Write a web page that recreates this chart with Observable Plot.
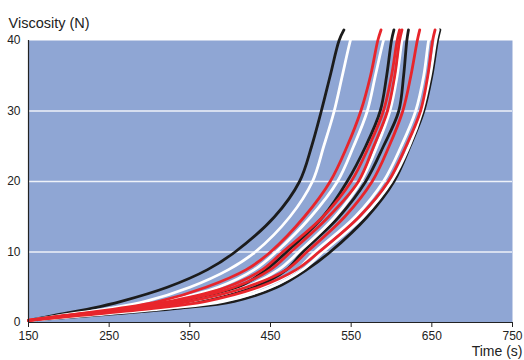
<!DOCTYPE html>
<html>
<head>
<meta charset="utf-8">
<script src="https://cdn.jsdelivr.net/npm/d3@7"></script>
<script src="https://cdn.jsdelivr.net/npm/@observablehq/plot@0.6"></script>
<style>
  html, body { margin: 0; padding: 0; background: #ffffff; }
  #chart svg { display: block; }
</style>
</head>
<body>
<div id="chart"></div>
<script>
// Viscosity levels (N) at which each run's time (s) was read
const levels = [0.3, 1, 2, 3, 5, 7.5, 10, 15, 20, 25, 30, 35, 40, 41.5];

// Times (s) per run
const run1  = [150, 182, 228, 265, 322, 372, 406, 455, 486, 501, 513, 524, 535, 541];
const run2  = [150, 190, 250, 295, 350, 398, 431, 474, 502, 516, 529, 539, 549, 553];
const run3  = [150, 195, 262, 312, 370, 420, 450, 492, 524, 545, 562, 574, 583, 587];
const run4  = [150, 200, 270, 320, 385, 430, 457, 500, 533, 553, 570, 580, 590, 594];
const run5  = [150, 205, 285, 345, 410, 445, 470, 515, 545, 568, 586, 594, 600, 603];
const run6  = [150, 198, 272, 325, 395, 440, 465, 515, 550, 572, 590, 600, 607, 610];
const run7  = [150, 200, 278, 335, 405, 450, 475, 522, 559, 578, 595, 604, 610, 613];
const run8  = [150, 208, 292, 352, 418, 460, 485, 530, 562, 582, 598, 607, 613, 616];
const run9  = [150, 212, 300, 365, 430, 470, 490, 535, 568, 590, 609, 615, 619, 621];
const run10 = [150, 205, 290, 350, 420, 470, 495, 542, 576, 597, 614, 624, 632, 635];
const run11 = [150, 218, 310, 378, 440, 483, 505, 555, 590, 612, 630, 640, 646, 649];
const run12 = [150, 215, 305, 370, 435, 482, 510, 560, 596, 618, 636, 645, 651, 654];
const run13 = [150, 225, 322, 392, 450, 490, 515, 565, 600, 622, 638, 648, 655, 658];
const run14 = [150, 232, 335, 405, 458, 495, 524, 570, 603, 623, 640, 650, 657, 660];

const runs   = [run1, run2, run3, run4, run5, run6, run7, run8, run9, run10, run11, run12, run13, run14];
const groups = ["K", "W", "R", "W", "K", "R", "R", "W", "K", "R", "W", "R", "W", "K"];

const xTicks = [150, 250, 350, 450, 550, 650, 750];
const yTicks = [0, 10, 20, 30, 40];
const gridValues = [10, 20, 30];

const yTitle = "Viscosity (N)";
const xTitle = "Time (s)";

// Build a tidy table from the arrays
const rows = [];
runs.forEach((times, i) => {
  times.forEach((t, j) => rows.push({run: "run" + (i + 1), group: groups[i], time: t, visc: levels[j]}));
});
const groupOrder = {K: 0, W: 1, R: 2};
rows.sort((a, b) => groupOrder[a.group] - groupOrder[b.group]);

const chart = Plot.plot({
  width: 524,
  height: 360,
  marginLeft: 28,
  marginRight: 12,
  marginTop: 40,
  marginBottom: 38,
  style: {fontFamily: "'Liberation Sans', Arial, Helvetica, sans-serif", fontSize: "12px", color: "#222", background: "#ffffff", overflow: "visible"},
  x: {domain: [150, 750], ticks: xTicks, tickSize: 5, tickPadding: 4, label: null},
  y: {domain: [0, 40], ticks: yTicks, tickSize: 0, tickPadding: 8, label: null},
  color: {domain: ["K", "W", "R"], range: ["#1c1c1c", "#ffffff", "#e8252b"]},
  marks: [
    Plot.frame({fill: "#8fa6d4", stroke: null}),
    Plot.gridY(gridValues, {stroke: "#ffffff", strokeOpacity: 0.85, strokeWidth: 1.5}),
    Plot.line(rows, {x: "time", y: "visc", z: "run", stroke: "group", strokeWidth: 2.8, curve: "catmull-rom"}),
    Plot.ruleX([150], {stroke: "#222", strokeWidth: 1.2}),
    Plot.ruleY([0], {stroke: "#222", strokeWidth: 1.2}),
    Plot.axisX({ticks: xTicks, tickSize: 5, tickPadding: 4, fontSize: 12, label: null}),
    Plot.axisY({ticks: yTicks, tickSize: 0, tickPadding: 8, fontSize: 12, label: null}),
    Plot.text([yTitle], {frameAnchor: "top-left", dx: -20, dy: -23, textAnchor: "start", fontSize: 14.5, fill: "#222"}),
    Plot.text([xTitle], {frameAnchor: "bottom-right", dx: 10, dy: 33, textAnchor: "end", fontSize: 14, fill: "#222"})
  ]
});
document.getElementById("chart").appendChild(chart);
</script>
</body>
</html>
